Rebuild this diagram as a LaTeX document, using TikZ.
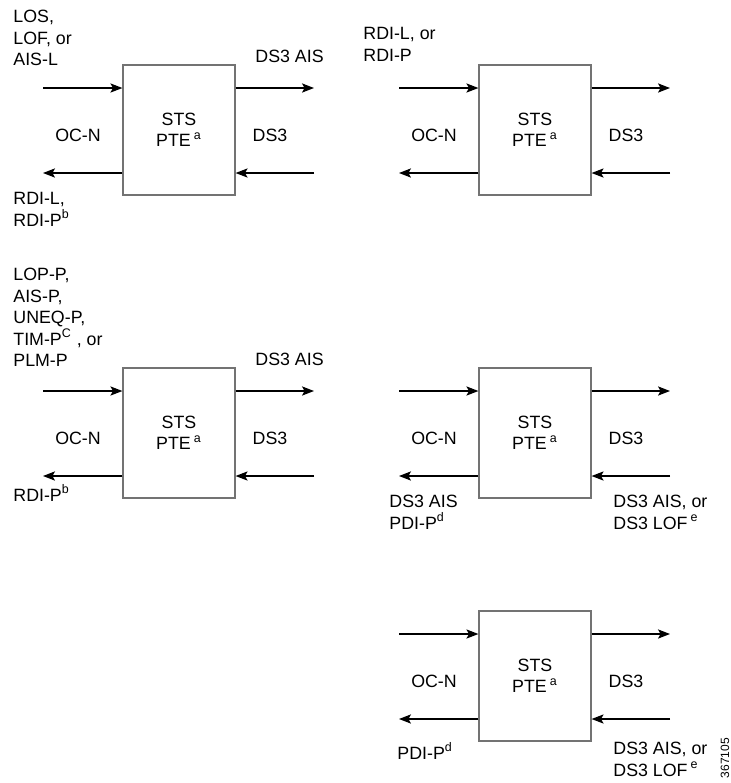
\documentclass[tikz,border=0pt]{standalone}
\usepackage{fontspec}
\setmainfont{Liberation Sans}
\usetikzlibrary{arrows.meta}

\begin{document}
\begin{tikzpicture}[x=0.5pt, y=-0.5pt, font=\fontsize{8.9}{10.75}\selectfont,
      >={Stealth[length=6pt, width=4.6pt, inset=1.3pt]},
      ptebox/.style={draw=black!55, line width=0.6pt, minimum width=56pt, minimum height=65pt, align=center, inner sep=0pt},
      sigarr/.style={->, line width=0.6pt},
      alarm/.style={align=left, anchor=north west, inner sep=0pt},
      side/.style={inner sep=0pt}]
    \useasboundingbox (0,0) rectangle (731,783);
    % the five STS PTE blocks
    \foreach \n/\cx/\cy in {1/179/130, 2/535/130, 3/179/433, 4/535/433, 5/535/676} {
      \node[ptebox] (p\n) at (\cx,\cy) {STS\\PTE\,\textsuperscript{a}};
      \coordinate (il\n) at (\cx-136,\cy-42);
      \coordinate (ir\n) at (\cx+135,\cy-42);
      \coordinate (ol\n) at (\cx-136,\cy+43);
      \coordinate (or\n) at (\cx+135,\cy+43);
      \draw[sigarr] (il\n) -- (p\n.west |- il\n);
      \draw[sigarr] (p\n.east |- ir\n) -- (ir\n);
      \draw[sigarr] (p\n.west |- ol\n) -- (ol\n);
      \draw[sigarr] (or\n) -- (p\n.east |- or\n);
      \node[side] (oc\n) at (\cx-101,\cy+5) {OC-N};
      \node[side] (ds\n) at (\cx+91,\cy+5) {DS3};
    }
    % alarm labels
    \node[alarm] (los1) at (13,10) {LOS,\\LOF, or\\AIS-L};
    \node[alarm] (ais1) at (255,50) {DS3 AIS};
    \node[alarm] (rdi1) at (13,192) {RDI-L,\\RDI-P\textsuperscript{b}};
    \node[alarm] (rdi2) at (363,27) {RDI-L, or\\RDI-P};
    \node[alarm] (lop3) at (13,268) {LOP-P,\\AIS-P,\\UNEQ-P,\\TIM-P\textsuperscript{C} , or\\PLM-P};
    \node[alarm] (ais3) at (255,353) {DS3 AIS};
    \node[alarm] (rdi3) at (13,484) {RDI-P\textsuperscript{b}};
    \node[alarm] (pdi4) at (389,495) {DS3 AIS\\PDI-P\textsuperscript{d}};
    \node[alarm] (lof4) at (613,495) {DS3 AIS, or\\DS3 LOF\,\textsuperscript{e}};
    \node[alarm] (pdi5) at (397,742) {PDI-P\textsuperscript{d}};
    \node[alarm] (lof5) at (613,742) {DS3 AIS, or\\DS3 LOF\,\textsuperscript{e}};
    \node[side, rotate=90, font=\fontsize{6}{7}\selectfont] (figid) at (725,758) {367105};
  \end{tikzpicture}
\end{document}
